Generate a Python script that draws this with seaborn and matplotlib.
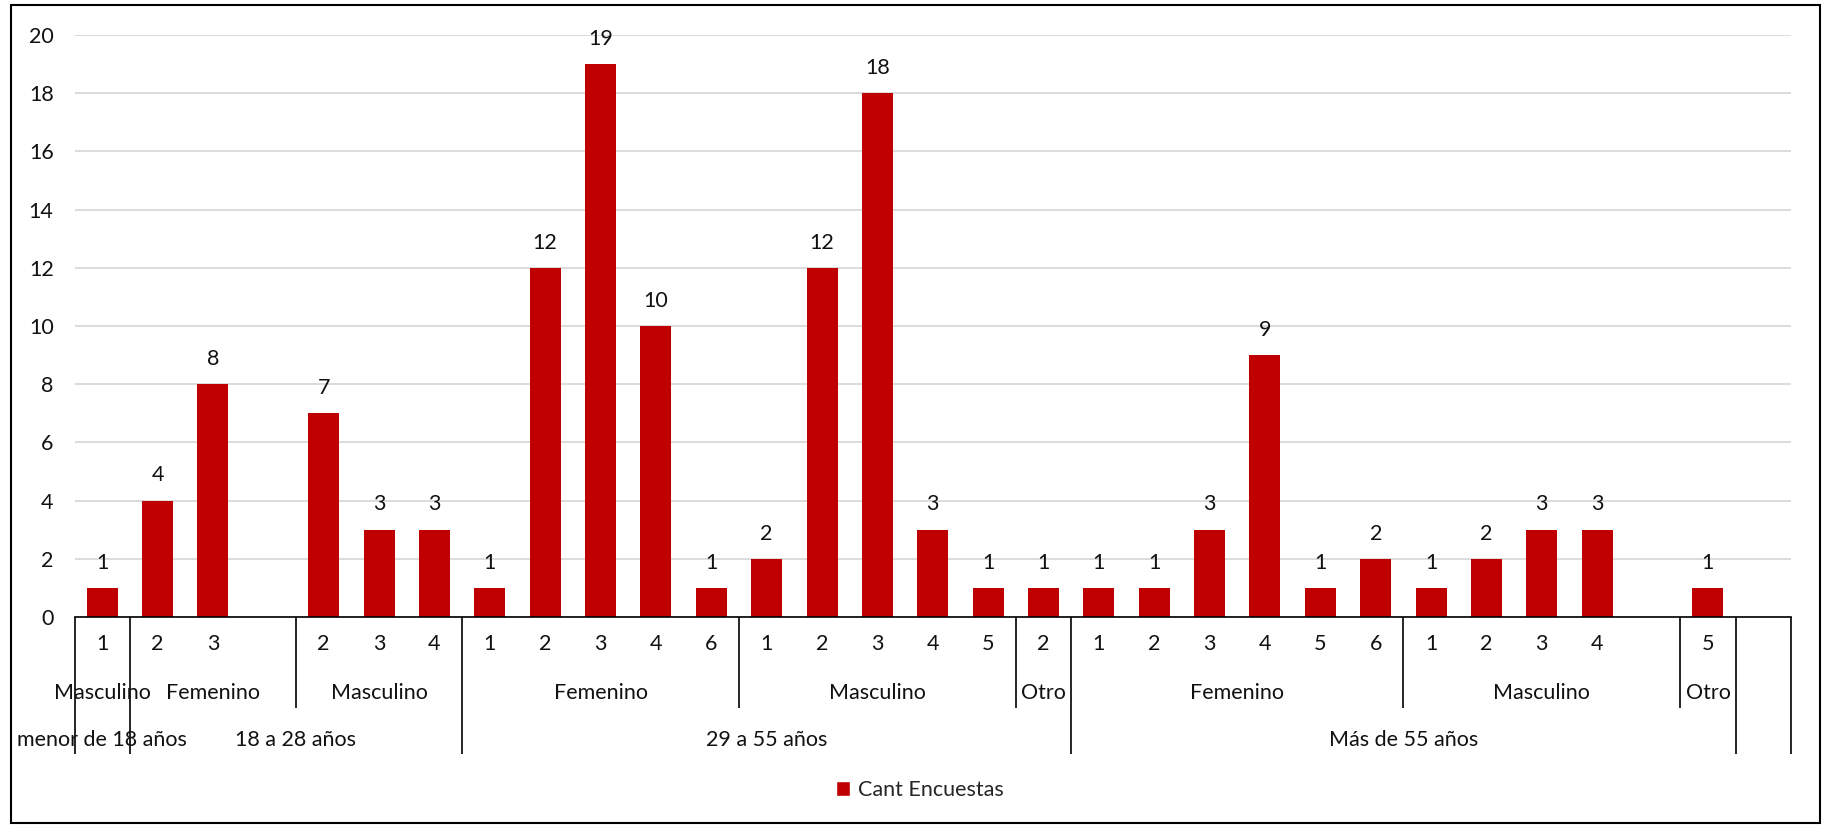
import numpy as np
import pandas as pd
import matplotlib
matplotlib.use("Agg")
import matplotlib.pyplot as plt
from matplotlib.patches import Patch, Rectangle
from matplotlib.transforms import blended_transform_factory
import seaborn as sns

# Three-level category axis: age range / sex / level, one entry per slot
edad = (["menor de 18 años"]
        + ["18 a 28 años"] * 6
        + ["29 a 55 años"] * 11
        + ["Más de 55 años"] * 12
        + [""])
sexo = (["Masculino"]
        + ["Femenino"] * 3 + ["Masculino"] * 3
        + ["Femenino"] * 5 + ["Masculino"] * 5 + ["Otro"]
        + ["Femenino"] * 6 + ["Masculino"] * 5 + ["Otro"]
        + [""])
nivel = (["1"]
         + ["2", "3", "", "2", "3", "4"]
         + ["1", "2", "3", "4", "6", "1", "2", "3", "4", "5", "2"]
         + ["1", "2", "3", "4", "5", "6", "1", "2", "3", "4", "", "5"]
         + [""])
cant_encuestas = [1,
                  4, 8, np.nan, 7, 3, 3,
                  1, 12, 19, 10, 1, 2, 12, 18, 3, 1, 1,
                  1, 1, 3, 9, 1, 2, 1, 2, 3, 3, np.nan, 1,
                  np.nan]

RED = "#C00000"

sns.set_theme(style="white")
plt.rcParams["font.family"] = ["Lato", "DejaVu Sans"]
FS = 15.5

df = pd.DataFrame({
    "slot": [str(i) for i in range(len(nivel))],
    "edad": edad, "sexo": sexo, "nivel": nivel,
    "cant": cant_encuestas,
})

W, H = 1825, 827
fig = plt.figure(figsize=(W / 100, H / 100), dpi=100)
ax = fig.add_axes([74.5 / W, 1 - 617 / H, (1791 - 74.5) / W, (617 - 35) / H])

sns.barplot(data=df, x="slot", y="cant", order=list(df["slot"]),
            color=RED, saturation=1, width=0.56, ax=ax, errorbar=None,
            linewidth=0)

ax.set_ylim(0, 20)
ax.set_xlim(-0.5, len(nivel) - 0.5)
ax.set_yticks(range(0, 21, 2))
ax.tick_params(axis="y", length=0, pad=15, labelsize=FS, labelcolor="#111111")
ax.set_xticks(range(len(nivel)))
ax.set_xticklabels(nivel)
ax.tick_params(axis="x", length=0, pad=12, labelsize=FS, labelcolor="#111111")
ax.set_xlabel("")
ax.set_ylabel("")
ax.yaxis.grid(True, color="#D9D9D9", linewidth=1.3)
ax.xaxis.grid(False)
ax.set_axisbelow(True)
for s in ("left", "top", "right"):
    ax.spines[s].set_visible(False)
ax.spines["bottom"].set_color("black")
ax.spines["bottom"].set_linewidth(1.2)

# Value labels above each bar
for cont in ax.containers:
    labels = [f"{v:.0f}" if np.isfinite(v) else "" for v in cont.datavalues]
    ax.bar_label(cont, labels=labels, padding=11, fontsize=FS, color="#111111")

# Group labels and separators below the axis
tr = blended_transform_factory(ax.transData, ax.transAxes)
axh = 617 - 35
y_sexo = -76 / axh
y_edad = -123 / axh
d_sexo = -91 / axh
d_edad = -137 / axh
n = len(nivel)


def runs(keys):
    out = []
    start = 0
    for i in range(1, n + 1):
        if i == n or keys[i] != keys[start]:
            out.append((start, i - 1, keys[start]))
            start = i
    return out


sexo_keys = list(zip(edad, sexo))
for a, b, (_, s) in runs(sexo_keys):
    if s:
        ax.text((a + b) / 2, y_sexo, s, transform=tr, ha="center", va="center",
                fontsize=FS, color="#111111")
for a, b, e in runs(edad):
    if e:
        ax.text((a + b) / 2, y_edad, e, transform=tr, ha="center", va="center",
                fontsize=FS, color="#111111")

for i in range(n + 1):
    x = i - 0.5
    if i == 0 or i == n or edad[i] != edad[i - 1]:
        depth = d_edad
    elif sexo[i] != sexo[i - 1]:
        depth = d_sexo
    else:
        continue
    ax.plot([x, x], [0, depth], transform=tr, color="black", lw=1.2,
            clip_on=False, solid_capstyle="butt")

fig.legend(handles=[Patch(facecolor=RED, label="Cant Encuestas")],
           loc="center", bbox_to_anchor=(920 / W, 1 - 790 / H), frameon=False,
           fontsize=FS, handlelength=0.65, handleheight=0.65,
           handletextpad=0.35)

fig.add_artist(Rectangle((11 / W, 1 - 823 / H), (1820 - 11) / W, (823 - 5) / H,
                         transform=fig.transFigure, fill=False,
                         edgecolor="black", linewidth=1.5))

fig.savefig("out.png", dpi=100, facecolor="white")
